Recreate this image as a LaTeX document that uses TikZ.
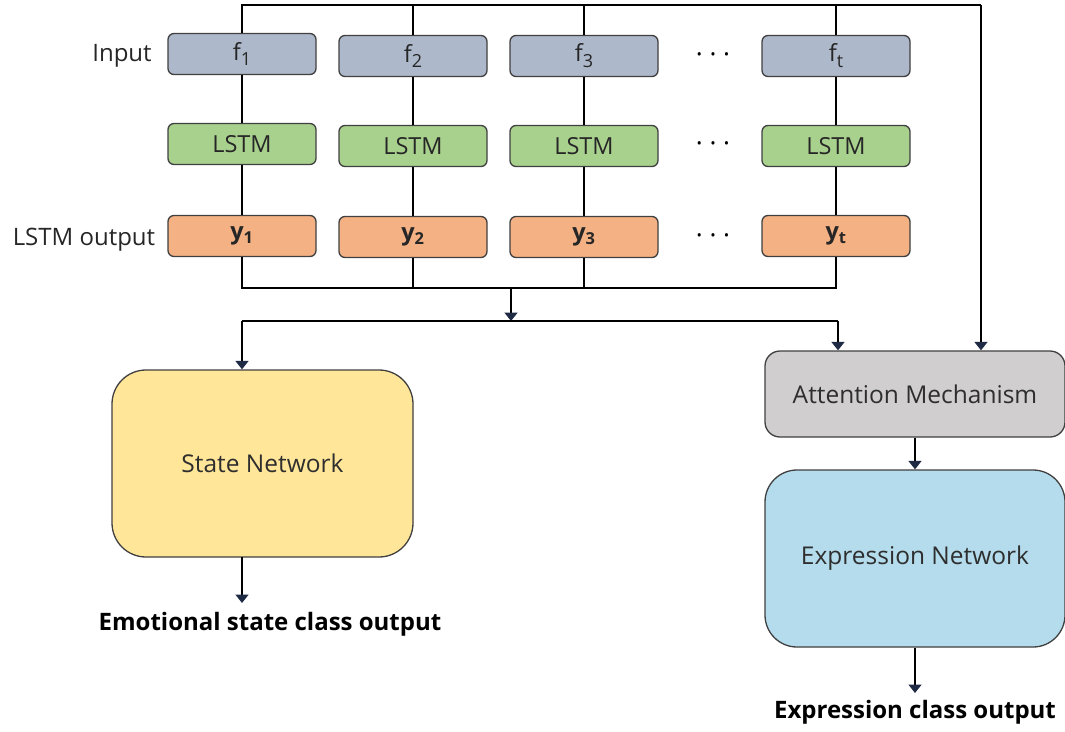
\documentclass[tikz,border=0pt]{standalone}
\usepackage{fontspec}
\setmainfont{Open Sans}
\usetikzlibrary{arrows.meta}
\definecolor{inputfill}{HTML}{ADB9CA}
\definecolor{lstmfill}{HTML}{A9D18E}
\definecolor{outfill}{HTML}{F4B183}
\definecolor{statefill}{HTML}{FFE699}
\definecolor{attfill}{HTML}{D0CECE}
\definecolor{exprfill}{HTML}{B4DCEC}
\definecolor{edgegray}{HTML}{404040}
\definecolor{tipblue}{HTML}{1F2A44}
\newcommand{\bigsub}[1]{\raisebox{-0.25em}{\fontsize{18}{20}\selectfont #1}}
\begin{document}
\begin{tikzpicture}[x=1pt,y=-1pt,
  cell/.style={draw=edgegray,line width=1.3pt,rounded corners=6pt,
    minimum width=148pt,minimum height=41pt,inner sep=0pt,font=\fontsize{23.5}{26}\selectfont\color{black!85}},
  inbox/.style={cell,fill=inputfill},
  lstmbox/.style={cell,fill=lstmfill},
  outbox/.style={cell,fill=outfill},
  bigbox/.style={draw=edgegray,line width=1.3pt,inner sep=0pt,font=\fontsize{24.5}{28}\selectfont\color{black!82}},
  wire/.style={line width=1.8pt,black},
  arr/.style={wire,-{Triangle[width=13pt,length=8.5pt,color=tipblue]}},
  lbl/.style={font=\fontsize{24}{28}\selectfont\color{black!85}},
  outlbl/.style={font=\fontsize{24}{28}\selectfont\bfseries},
  dots/.style={font=\fontsize{26}{28}\selectfont}]
\useasboundingbox (0,0) rectangle (1065,731);

% row labels
\node[lbl] (linput) at (122,56) {Input};
\node[lbl] (lout) at (84,240) {LSTM output};

% input row
\node[inbox] (f1) at (242,54) {f\bigsub{1}};
\node[inbox] (f2) at (413,56) {f\bigsub{2}};
\node[inbox] (f3) at (584,56) {f\bigsub{3}};
\node[inbox] (ft) at (836,56) {f\bigsub{t}};
\node[dots] (d1) at (713,58) {· · ·};

% LSTM row
\node[lstmbox] (l1) at (242,144) {LSTM};
\node[lstmbox] (l2) at (413,146) {LSTM};
\node[lstmbox] (l3) at (584,146) {LSTM};
\node[lstmbox] (lt) at (836,146) {LSTM};
\node[dots] (d2) at (713,147) {· · ·};

% output row
\node[outbox] (y1) at (242,236) {\textbf{y\textsubscript{1}}};
\node[outbox] (y2) at (413,237) {\textbf{y\textsubscript{2}}};
\node[outbox] (y3) at (584,237) {\textbf{y\textsubscript{3}}};
\node[outbox] (yt) at (836,236) {\textbf{y\textsubscript{t}}};
\node[dots] (d3) at (713,239) {· · ·};

% lower blocks
\node[bigbox,fill=statefill,rounded corners=34pt,minimum width=301pt,minimum height=187pt]
  (state) at (262.5,463.5) {State Network};
\node[bigbox,fill=attfill,rounded corners=15pt,minimum width=300pt,minimum height=86pt]
  (att) at (915,394) {Attention Mechanism};
\node[bigbox,fill=exprfill,rounded corners=32pt,minimum width=300pt,minimum height=177pt]
  (expr) at (915,558.5) {Expression Network};

\node[outlbl] (eso) at (270,624) {Emotional state class output};
\node[outlbl] (eco) at (915,712) {Expression class output};

% bus coordinates
\coordinate (tl) at (242,5);
\coordinate (tr) at (981,5);
\coordinate (bl) at (242,288);
\coordinate (br) at (836,288);
\coordinate (m1) at (511,288);
\coordinate (m2) at (511,321);
\coordinate (sl) at (242,321);
\coordinate (sr) at (838,321);
\coordinate (so) at (242,557);
\coordinate (soe) at (242,603);
\coordinate (eoe) at (915,693);

% top bus feeding the attention block
\draw[wire] (f1.north) -- (tl) -- (tr);
\draw[wire] (f2.north) -- (f2.north |- tl);
\draw[wire] (f3.north) -- (f3.north |- tl);
\draw[wire] (ft.north) -- (ft.north |- tl);
\draw[arr] (tr) -- (tr |- att.north);

% columns
\foreach \a/\b/\c in {f1/l1/y1,f2/l2/y2,f3/l3/y3,ft/lt/yt}{
  \draw[wire] (\a.south) -- (\b.north);
  \draw[wire] (\b.south) -- (\c.north);
}

% bottom bus collecting LSTM outputs
\draw[wire] (y1.south) -- (bl) -- (br) -- (yt.south);
\draw[wire] (y2.south) -- (y2.south |- bl);
\draw[wire] (y3.south) -- (y3.south |- bl);
\draw[arr] (m1) -- (m2);

% split to the two branches
\draw[wire] (sl) -- (sr);
\draw[arr] (sl) -- (sl |- state.north);
\draw[arr] (sr) -- (sr |- att.north);
\draw[arr] (att.south) -- (expr.north);

% outputs
\draw[arr] (so) -- (soe);
\draw[arr] (expr.south) -- (eoe);
\end{tikzpicture}
\end{document}
